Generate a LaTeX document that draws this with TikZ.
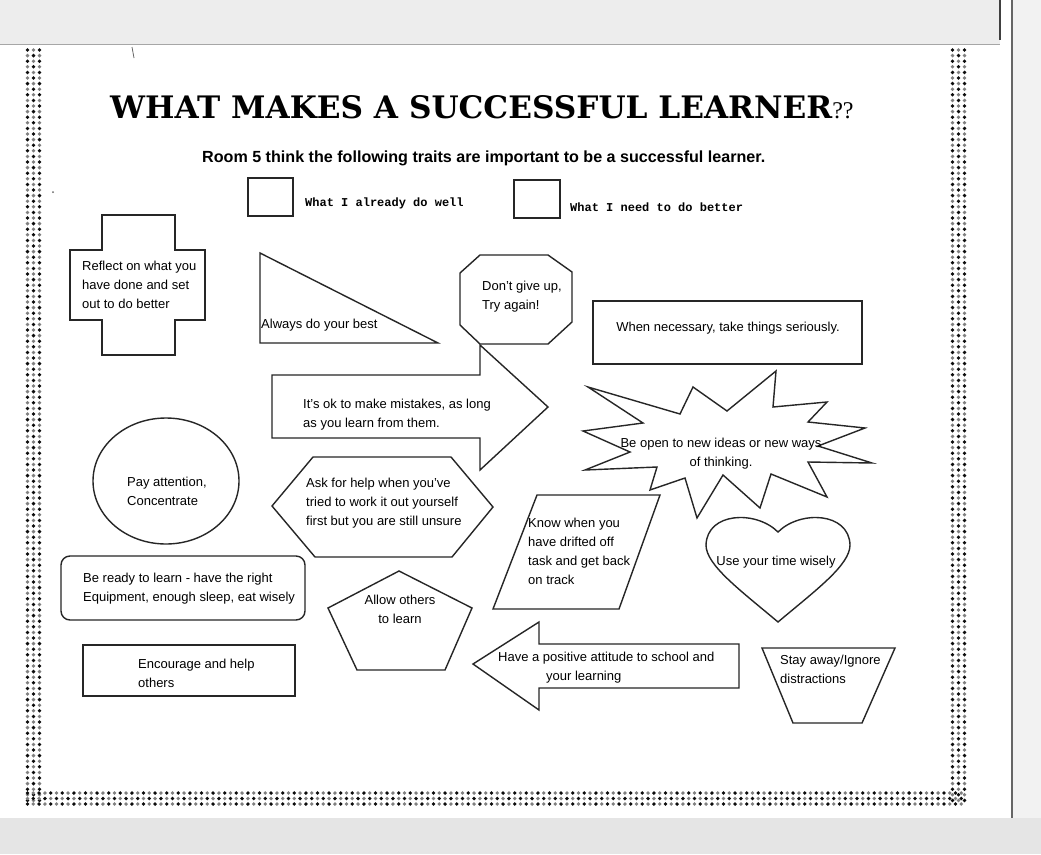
\documentclass[tikz,border=0pt]{standalone}
\usepackage{graphicx}
\usepackage{fontspec}
\setmainfont{Liberation Sans}
\newfontfamily\headfont{DejaVu Serif}
\newfontfamily\qfont{Liberation Serif}
\newfontfamily\keyfont{Liberation Mono}
\newcommand{\traitfont}{\fontsize{13}{19}\selectfont}

\begin{document}
\begin{tikzpicture}[x=1pt, y=-1pt,
  trait/.style={draw=black!85, line width=1.4pt},
  traittext/.style={font=\traitfont, align=left, inner sep=0pt},
  tickbox/.style={draw=black!85, line width=1.4pt},
  keytext/.style={font=\keyfont\bfseries\fontsize{12}{12}\selectfont, inner sep=0pt, anchor=west}]
  \useasboundingbox (0,0) rectangle (1041,854);

  % scanned page
  \fill[white] (0,0) rectangle (1041,854);
  \fill[black!7] (0,0) rectangle (1000,44);
  \draw[black!35, line width=1pt] (0,44) -- (1000,44);
  \draw[black!75, line width=1.2pt] (1000,0) -- (1000,40);
  \fill[black!5] (1013,0) rectangle (1041,854);
  \draw[black!60, line width=1.2pt] (1012,0) -- (1012,818);
  \fill[black!10] (0,818) rectangle (1041,854);
  \draw[black!60, line width=0.8pt] (132,47) -- (134,58);
  \fill[black!60] (53,192) circle (1);

  % dotted border
  \foreach \j in {0,...,134}
    \foreach \i in {0,1,2}{
      \pgfmathtruncatemacro\dotshade{mod(\i+\j,2)==0 ? 95 : 50}
      \fill[black!\dotshade] ({27.5+6*\i},{50+5.6*\j}) circle (1.9);
      \fill[black!\dotshade] ({952.5+6*\i},{50+5.6*\j}) circle (1.9);
    }
  \foreach \j in {0,...,161}
    \foreach \i in {0,1,2}{
      \pgfmathtruncatemacro\dotshade{mod(\i+\j,2)==0 ? 95 : 50}
      \fill[black!\dotshade] ({27.5+5.8*\j},{793+5.5*\i}) circle (1.9);
    }

  % heading
  \node[anchor=base west, inner sep=0pt] (title) at (110,118)
    {\resizebox{722pt}{23pt}{\headfont\bfseries WHAT MAKES A SUCCESSFUL LEARNER}{\qfont\fontsize{24}{24}\selectfont ??}};
  \node[anchor=base west, inner sep=0pt] (room) at (202,162)
    {\resizebox{563pt}{!}{\bfseries Room 5 think the following traits are important to be a successful learner.}};

  % key
  \draw[tickbox] (248,178) rectangle (293,216);
  \node[keytext] (donewell) at (305,203) {What I already do well};
  \draw[tickbox] (514,180) rectangle (560,218);
  \node[keytext] (dobetter) at (570,207) {What I need to do better};

  % traits
  \draw[trait] (102,215) -- (175,215) -- (175,250) -- (205,250) -- (205,320) -- (175,320)
    -- (175,355) -- (102,355) -- (102,320) -- (70,320) -- (70,250) -- (102,250) -- cycle;
  \node[traittext, anchor=west] (reflect) at (82,285) {Reflect on what you\\have done and set\\out to do better};

  \draw[trait] (260,253) -- (438,343) -- (260,343) -- cycle;
  \node[traittext, anchor=west] (best) at (261,325) {Always do your best};

  \draw[trait] (480,255) -- (548,255) -- (572,272) -- (572,322) -- (548,344) -- (480,344) -- (460,325) -- (460,273) -- cycle;
  \node[traittext, anchor=west] (giveup) at (482,297) {Don't give up,\\Try again!};

  \draw[trait] (593,301) rectangle (862,364);
  \node[traittext] (serious) at (728,328) {When necessary, take things seriously.};

  \draw[trait] (272,375) -- (480,375) -- (480,345) -- (548,407) -- (480,470) -- (480,438) -- (272,438) -- cycle;
  \node[traittext, anchor=west] (mistakes) at (303,415) {It's ok to make mistakes, as long\\as you learn from them.};

  \draw[trait] (588,387) -- (680,414) -- (693,387) -- (727,411) -- (776,371) -- (773,407) -- (827,402) -- (808,422)
    -- (865,428) -- (818,446) -- (872,463) -- (808,462) -- (827,497) -- (771,474) -- (760,508) -- (723,475)
    -- (697,518) -- (685,478) -- (650,490) -- (657,467) -- (585,470) -- (630,452) -- (583,431) -- (643,423) -- cycle;
  \node[traittext, align=center] (ideas) at (721,454) {Be open to new ideas or new ways\\of thinking.};

  \draw[trait] (166,481) ellipse (73 and 63);
  \node[traittext, anchor=west] (attention) at (127,491) {Pay attention,\\Concentrate};

  \draw[trait] (272,506) -- (313,457) -- (451,457) -- (493,507) -- (452,557) -- (315,557) -- cycle;
  \node[traittext, anchor=west] (askhelp) at (306,503) {Ask for help when you've\\tried to work it out yourself\\first but you are still unsure};

  \draw[trait, rounded corners=9pt] (61,556) rectangle (305,620);
  \node[traittext, anchor=west] (ready) at (83,589) {Be ready to learn - have the right\\Equipment, enough sleep, eat wisely};

  \draw[trait] (83,645) rectangle (295,696);
  \node[traittext, anchor=west] (encourage) at (138,673) {Encourage and help\\others};

  \draw[trait] (399,571) -- (472,608) -- (445,670) -- (357,670) -- (328,608) -- cycle;
  \node[traittext, align=center] (allow) at (400,609) {Allow others\\to learn};

  \draw[trait] (537,495) -- (660,495) -- (619,609) -- (493,609) -- cycle;
  \node[traittext, anchor=west] (drifted) at (528,551) {Know when you\\have drifted off\\task and get back\\on track};

  \draw[trait] (778,532) .. controls (756,510) and (707,512) .. (706,545) .. controls (706,565) and (740,590) .. (778,622)
    .. controls (816,590) and (850,565) .. (850,545) .. controls (849,512) and (800,510) .. (778,532) -- cycle;
  \node[traittext] (time) at (776,562) {Use your time wisely};

  \draw[trait] (739,644) -- (539,644) -- (539,622) -- (473,664) -- (539,710) -- (539,688) -- (739,688) -- cycle;
  \node[traittext, anchor=west] (attitude) at (498,668) {Have a positive attitude to school and\\\hspace*{48pt}your learning};

  \draw[trait] (762,648) -- (895,648) -- (862,723) -- (793,723) -- cycle;
  \node[traittext, anchor=west] (distract) at (780,669) {Stay away/Ignore\\distractions};
\end{tikzpicture}
\end{document}
